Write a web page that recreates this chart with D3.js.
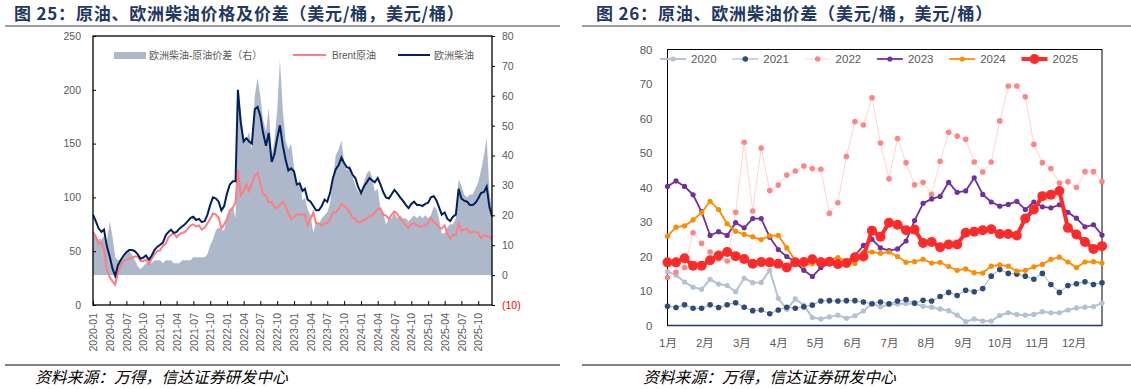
<!DOCTYPE html>
<html lang="zh">
<head>
<meta charset="UTF-8">
<title>原油、欧洲柴油价格及价差</title>
<script src="https://d3js.org/d3.v7.min.js"></script>
<style>
  body { margin: 0; background: #fff; }
  svg text { font-family: "Liberation Sans", "Noto Sans CJK SC", sans-serif; }
  .title { font-family: "Noto Sans CJK SC", sans-serif; font-weight: bold; font-size: 17px; letter-spacing: 0.8px; fill: #1f3864; }
  .source { font-family: "Noto Sans CJK SC", sans-serif; font-style: italic; font-size: 15.8px; fill: #000; }
  .tick text { fill: #595959; }
</style>
</head>
<body>
<svg id="chart" width="1131" height="389"></svg>
<script>
// ---- left chart: half-monthly readings, 2020-01 .. 2025-12 (USD/bbl)
const diesel = [
  84,78,71,68,70,55,45,34,27,37,42,46,49,51,51,50,47,43,44,46,42,46,51,54,
  56,58,65,68,70,67,68,71,73,75,78,81,82,79,80,77,78,84,93,100,99,96,88,92,
  104,112,115,115,200,170,152,155,152,150,182,184,176,160,148,160,133,140,155,167,148,135,125,127,
  124,112,113,106,108,98,96,92,88,88,92,98,96,104,118,126,130,137,132,128,127,121,118,110,
  104,110,114,118,116,114,118,112,105,100,99,103,107,104,100,97,93,90,94,96,93,93,92,94,
  95,100,101,97,91,84,86,80,78,82,84,108,99,97,96,93,93,95,99,104,105,110,91,82
];
const brent = [
  68,64,57,58,52,33,26,22,19,30,37,41,42,43,44,45,45,41,41,42,38,43,47,50,
  51,55,57,63,65,67,63,66,67,68,71,74,75,73,74,70,72,76,80,85,84,81,71,75,
  80,88,90,96,126,102,106,112,106,113,120,123,113,103,102,95,96,91,90,93,96,92,85,80,
  82,84,84,84,84,74,80,86,76,76,74,76,76,80,86,86,89,94,92,90,86,81,80,77,
  77,79,80,83,83,86,89,90,84,83,80,84,87,85,80,78,74,72,75,76,74,73,73,74,
  76,81,77,75,72,71,74,66,62,65,65,76,69,70,71,67,68,68,67,62,65,64,63,61
];
const spread = [
  15,13,12,12,13,11,18,13,6,5,5,6,7,8,7,5,3,2,3,4,4,4,5,5,
  5,4,5,5,5,4,4,4,5,5,5,5,6,6,6,6,6,7,10,12,15,16,15,15,
  20,22,23,19,62,55,46,45,48,42,60,66,60,52,48,56,40,45,55,72,55,45,42,44,
  36,30,32,25,26,22,20,14,18,17,19,20,21,24,32,40,42,45,38,35,37,33,30,28,
  27,31,34,35,33,28,29,22,21,17,19,19,21,19,20,19,19,18,19,20,19,20,19,20,
  19,20,23,22,19,14,14,16,17,17,19,32,30,27,26,27,27,29,31,35,40,46,28,21
];
const leftTicks = [0, 50, 100, 150, 200, 250];
const rightTicks = [-10, 0, 10, 20, 30, 40, 50, 60, 70, 80];

// ---- right chart: weekly spread by year
const years = ["2020", "2021", "2022", "2023", "2024", "2025"];
const s2020 = [15.6,14.6,12.6,11.1,10.5,13.4,12.0,11.6,9.8,13.7,12.4,12.5,16.0,7.9,4.7,7.7,5.9,2.3,1.9,2.5,3.0,2.1,2.8,4.2,6.3,5.4,
               6.1,6.2,6.4,6.3,5.6,5.3,4.8,4.3,3.0,1.1,1.9,1.3,1.3,2.9,3.7,3.2,3.0,3.2,4.0,3.7,3.7,4.5,5.1,5.3,5.5,6.5];
const s2021 = [5.6,5.2,6.0,5.0,5.0,6.0,5.2,6.0,6.6,5.3,4.3,4.5,3.4,4.5,5.3,5.0,5.4,5.9,7.1,7.2,7.1,7.2,7.2,6.8,6.3,6.8,
               6.3,7.1,7.5,6.5,7.3,7.1,8.4,9.6,8.7,10.2,9.8,10.7,14.3,16.2,15.1,14.9,14.3,13.4,15.1,11.9,9.6,11.6,12.1,12.7,11.9,12.4];
const s2022 = [13.9,15.4,16.8,26.9,23.8,21.3,19.3,18.7,32.8,53.1,33.2,51.4,39.1,40.7,43.6,44.8,46.2,45.5,45.3,32.5,35.6,49.0,59.1,58.1,66.0,52.9,
               42.5,54.2,47.2,40.8,41.5,38.0,47.6,56.0,54.9,54.0,47.4,44.5,47.4,59.3,69.4,69.4,66.3,52.5,47.2,45.5,41.3,41.7,40.0,44.6,44.6,41.7];
const s2023 = [40.3,41.9,40.3,37.9,33.0,26.1,27.2,26.1,29.8,28.3,31.0,31.0,25.6,22.0,20.0,18.4,16.0,14.2,16.8,18.0,17.4,18.5,20.3,23.2,25.0,22.5,
               21.7,22.2,24.5,30.4,35.4,36.7,37.4,41.5,38.6,39.0,42.8,38.0,35.8,34.6,35.1,36.0,33.6,35.8,34.4,34.1,35.0,32.8,31.1,28.6,29.2,26.2];
const s2024 = [25.9,28.5,28.9,30.6,32.7,36.0,33.6,29.5,27.3,26.4,25.7,24.9,26.0,26.1,22.5,18.9,17.4,17.9,19.0,19.2,19.7,18.7,18.0,21.3,21.3,20.9,
               21.3,20.0,18.3,18.5,19.2,18.1,18.3,17.1,16.0,16.4,15.3,15.2,17.2,17.6,17.2,15.8,16.0,17.0,17.7,19.2,19.8,18.4,16.8,18.4,18.5,18.1];
const s2025 = [18.3,18.3,19.5,17.3,17.3,18.9,20.3,21.3,20.1,19.3,17.9,18.4,18.3,17.9,16.8,18.3,18.4,19.2,18.3,18.5,17.8,18.1,19.8,20.0,27.5,25.7,
               29.8,29.2,27.6,27.8,23.9,24.2,22.7,23.5,23.5,26.9,27.2,27.6,27.9,26.5,26.5,26.1,31.0,33.6,37.5,37.9,39.0,28.3,26.4,24.2,22.2,23.0];
const months = ["1月","2月","3月","4月","5月","6月","7月","8月","9月","10月","11月","12月"];

const svg = d3.select("#chart");
svg.append("rect").attr("width", 1131).attr("height", 389).attr("fill", "#fff");

// titles and rules
svg.append("text").attr("class", "title").attr("x", 14).attr("y", 20)
  .text("图 25：原油、欧洲柴油价格及价差（美元/桶，美元/桶）");
svg.append("text").attr("class", "title").attr("x", 596).attr("y", 20)
  .text("图 26：原油、欧洲柴油价差（美元/桶，美元/桶）");
[[5, 560], [582, 1131]].forEach(([a, b]) => {
  svg.append("line").attr("x1", a).attr("x2", b).attr("y1", 26).attr("y2", 26)
    .attr("stroke", "#404040").attr("stroke-width", 1);
  svg.append("line").attr("x1", a).attr("x2", b).attr("y1", 365).attr("y2", 365)
    .attr("stroke", "#808080").attr("stroke-width", 2);
});
svg.append("text").attr("class", "source").attr("x", 35).attr("y", 383).text("资料来源：万得，信达证券研发中心");
svg.append("text").attr("class", "source").attr("x", 643).attr("y", 383).text("资料来源：万得，信达证券研发中心");

// ================= left chart =================
const L = { left: 93, right: 492, top: 36, bottom: 305 };
const dates = diesel.map((d, i) => new Date(2020 + Math.floor(i / 24), Math.floor((i % 24) / 2), i % 2 ? 16 : 1));
const x = d3.scaleTime().domain([new Date(2020, 0, 1), new Date(2025, 11, 15)]).range([L.left, L.right]);
const yL = d3.scaleLinear().domain([0, 250]).range([L.bottom, L.top]);
const yR = d3.scaleLinear().domain([-10, 80]).range([L.bottom, L.top]);

svg.append("clipPath").attr("id", "clipL").append("rect")
  .attr("x", L.left).attr("y", L.top).attr("width", L.right - L.left).attr("height", L.bottom - L.top);
const gL = svg.append("g").attr("clip-path", "url(#clipL)");

gL.append("path")
  .datum(spread.map((v, i) => ({ date: dates[i], v })))
  .attr("fill", "#adb9ca")
  .attr("d", d3.area().x(d => x(d.date)).y0(yR(0)).y1(d => yR(d.v)));

const lineL = d3.line().x(d => x(d.date)).y(d => yL(d.v));
gL.append("path").datum(brent.map((v, i) => ({ date: dates[i], v })))
  .attr("fill", "none").attr("stroke", "#ff7c80").attr("stroke-width", 2).attr("d", lineL);
gL.append("path").datum(diesel.map((v, i) => ({ date: dates[i], v })))
  .attr("fill", "none").attr("stroke", "#002060").attr("stroke-width", 2).attr("d", lineL);

svg.append("g").attr("transform", `translate(${L.left},0)`)
  .call(d3.axisLeft(yL).tickValues(leftTicks).tickSize(-3).tickPadding(12))
  .call(g => g.select(".domain").remove())
  .call(g => g.selectAll("line").attr("stroke", "#000"))
  .call(g => g.selectAll("text").style("font-size", "10.5px"));

svg.append("g").attr("transform", `translate(${L.right},0)`)
  .call(d3.axisRight(yR).tickValues(rightTicks).tickSize(3).tickPadding(7)
    .tickFormat(d => d < 0 ? `(${-d})` : d))
  .call(g => g.select(".domain").remove())
  .call(g => g.selectAll("line").attr("stroke", "#000"))
  .call(g => g.selectAll("text").style("font-size", "10.5px")
    .style("fill", d => d < 0 ? "#ff0000" : "#595959"));

svg.append("g").attr("transform", `translate(0,${L.bottom})`)
  .call(d3.axisBottom(x).ticks(d3.timeMonth.every(3)).tickFormat(d3.timeFormat("%Y-%m")).tickSize(-4))
  .call(g => g.select(".domain").remove())
  .call(g => g.selectAll("line").attr("stroke", "#000"))
  .call(g => g.selectAll("text").style("font-size", "10.5px")
    .attr("transform", "rotate(-90)").attr("text-anchor", "end")
    .attr("x", -8).attr("y", 0).attr("dy", "0.35em"));

svg.append("rect").attr("x", L.left).attr("y", L.top)
  .attr("width", L.right - L.left).attr("height", L.bottom - L.top)
  .attr("fill", "none").attr("stroke", "#000").attr("stroke-width", 1.3);

// left legend
const legL = svg.append("g").style("font-size", "10px").style("fill", "#595959");
legL.append("rect").attr("x", 114).attr("y", 52).attr("width", 32).attr("height", 7).attr("fill", "#adb9ca");
legL.append("text").attr("x", 149).attr("y", 59).text("欧洲柴油-原油价差（右）");
legL.append("line").attr("x1", 293).attr("x2", 326).attr("y1", 55).attr("y2", 55).attr("stroke", "#ff7c80").attr("stroke-width", 2);
legL.append("text").attr("x", 332).attr("y", 59).text("Brent原油");
legL.append("line").attr("x1", 398).attr("x2", 430).attr("y1", 55).attr("y2", 55).attr("stroke", "#002060").attr("stroke-width", 2);
legL.append("text").attr("x", 434).attr("y", 59).text("欧洲柴油");

// ================= right chart =================
const R = { left: 667.5, right: 1102, top: 49.5, bottom: 325.5 };
const xW = d3.scaleLinear().domain([0, 51]).range([R.left, R.right]);
const yW = d3.scaleLinear().domain([0, 80]).range([R.bottom, R.top]);

svg.append("g").attr("transform", `translate(${R.left},0)`)
  .call(d3.axisLeft(yW).tickValues(d3.range(0, 81, 10)).tickSize(0).tickPadding(15))
  .call(g => g.select(".domain").remove())
  .call(g => g.selectAll("text").style("font-size", "11.5px"));

svg.append("g").attr("transform", `translate(0,${R.bottom})`)
  .call(d3.axisBottom(xW).tickValues(months.map((m, i) => i * 52 / 12))
    .tickFormat((d, i) => months[i]).tickSize(0).tickPadding(13))
  .call(g => g.select(".domain").remove())
  .call(g => g.selectAll("text").style("font-size", "11.5px"));

svg.append("rect").attr("x", R.left).attr("y", R.top)
  .attr("width", R.right - R.left).attr("height", R.bottom - R.top)
  .attr("fill", "none").attr("stroke", "#000").attr("stroke-width", 1);
svg.append("line").attr("x1", R.left).attr("x2", R.right).attr("y1", R.bottom).attr("y2", R.bottom)
  .attr("stroke", "#1f3864").attr("stroke-width", 1.5);

const series = [s2020, s2021, s2022, s2023, s2024, s2025];
const styles = [
  { line: "#b4c0d4", dot: "#b4c0d4", w: 2, r: 2.6 },
  { line: "#9aa9c3", dot: "#2f4b7c", w: 1, r: 2.8 },
  { line: "#ffd3d3", dot: "#ff8585", w: 1, r: 2.8 },
  { line: "#7030a0", dot: "#7030a0", w: 1.8, r: 2.6 },
  { line: "#ff8c00", dot: "#ff8c00", w: 1.8, r: 2.6 },
  { line: "#ff2a2a", dot: "#ff2a2a", w: 4, r: 5 }
];
const lineW = d3.line().x((d, i) => xW(i)).y(d => yW(d));

series.forEach((vals, k) => {
  const st = styles[k];
  const g = svg.append("g");
  g.append("path").datum(vals).attr("fill", "none")
    .attr("stroke", st.line).attr("stroke-width", st.w).attr("stroke-linejoin", "round").attr("d", lineW);
  g.selectAll("circle").data(vals).join("circle")
    .attr("cx", (d, i) => xW(i)).attr("cy", d => yW(d)).attr("r", st.r).attr("fill", st.dot);
});

// right legend
const legR = svg.append("g").style("font-size", "11.5px").style("fill", "#595959");
years.forEach((yr, k) => {
  const st = styles[k];
  const x0 = 660 + k * 72.3;
  legR.append("line").attr("x1", x0).attr("x2", x0 + 26).attr("y1", 59).attr("y2", 59)
    .attr("stroke", st.line).attr("stroke-width", st.w);
  legR.append("circle").attr("cx", x0 + 13).attr("cy", 59).attr("r", st.r).attr("fill", st.dot);
  legR.append("text").attr("x", x0 + 31).attr("y", 63).text(yr);
});
</script>
</body>
</html>
